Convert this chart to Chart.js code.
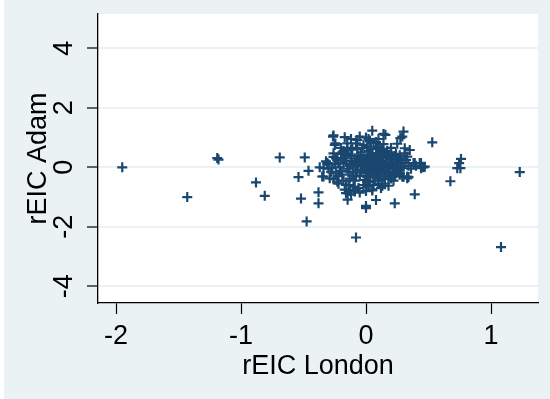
<!DOCTYPE html>
<html><head><meta charset="utf-8">
<script src="https://cdn.jsdelivr.net/npm/chart.js@4/dist/chart.umd.min.js"></script>
<style>html,body{margin:0;padding:0;background:#fff}#wrap{width:550px;height:399px}</style>
</head><body><div id="wrap"><canvas id="c" width="550" height="399"></canvas></div>
<script>
const xTitle = "rEIC London";
const yTitle = "rEIC Adam";
const xTicks = [-2, -1, 0, 1];
const yTicks = [-4, -2, 0, 2, 4];
const xRange = [-2.144, 1.376];
const yRange = [-4.56, 5.15];

const outliers = [
[-1.95,0.0],[-1.43,-1.0],[-1.19,0.31],[-1.18,0.26],[-0.88,-0.51],[-0.81,-0.96],[-0.69,0.33],[-0.49,0.33],
[-0.54,-0.33],[-0.46,-0.12],[-0.52,-1.05],[-0.38,-0.84],[-0.38,-1.21],[-0.475,-1.82],[-0.08,-2.36],[1.08,-2.68],
[1.23,-0.16],[0.675,-0.47],[0.76,0.28],[0.745,0.14],[0.73,-0.03],[0.755,-0.03],[0.53,0.84],[0.39,-0.91],
[0.23,-1.21],[0.08,-1.1],[0.0,-1.3],[0.0,-1.37]
];
const fringe = [
[-0.26,1.07],[-0.17,1.01],[-0.25,0.75],[0.05,1.23],[0.14,1.12],[0.155,1.09],[0.30,1.2],[0.29,1.03],[0.25,0.79],
[-0.07,0.92],[-0.05,1.03],[0.0,1.0],[0.03,0.9],[0.08,0.85],[-0.12,0.6],[-0.18,0.55],[0.1,0.7],[0.2,0.65],[-0.02,0.75],
[0.35,0.58],[0.31,0.64],[0.33,0.36],[0.43,0.14],[0.38,0.14],[0.46,0.0],[0.45,0.02],[0.47,0.02],[0.34,-0.33],[0.30,-0.33],
[0.33,-0.31],[0.29,-0.31],[0.31,0.47],[0.25,0.2],[0.22,0.1],[0.27,-0.1],[0.24,-0.2],[0.36,-0.05],[0.4,0.05],
[-0.37,0.0],[-0.34,-0.31],[-0.30,0.1],[-0.28,-0.15],[-0.32,0.2],[-0.26,-0.4],[-0.24,0.3],[-0.3,-0.05],[-0.22,-0.55],[-0.2,0.45],
[-0.264,1.03],[-0.245,0.8],[-0.26,0.47],[-0.31,0.14],[-0.34,-0.03],[-0.35,-0.31],[-0.29,-0.37],[-0.23,-0.48],[-0.16,-0.59],
[-0.16,-0.87],[-0.147,-1.09],[-0.12,-0.92],[-0.09,-0.81],[0.05,-0.74],[0.13,-0.63],[0.30,0.02],[0.33,-0.37],[0.27,-0.2],
[0.275,0.98],[0.39,0.14],[0.44,-0.03],[0.44,0.14]
];
const core = [
[-0.18,0.12],[-0.15,-0.05],[-0.12,0.22],[-0.1,-0.18],[-0.08,0.05],[-0.06,0.35],[-0.05,-0.3],[-0.03,0.15],[-0.02,-0.08],[0.0,0.25],
[0.01,-0.2],[0.02,0.08],[0.03,0.42],[0.04,-0.12],[0.05,0.18],[0.06,-0.35],[0.07,0.3],[0.08,0.0],[0.09,-0.25],[0.1,0.12],
[0.11,0.4],[0.12,-0.1],[0.13,0.22],[0.14,-0.3],[0.15,0.05],[0.16,0.32],[0.17,-0.18],[0.18,0.15],[0.19,-0.05],[0.2,0.28],
[-0.19,-0.25],[-0.17,0.3],[-0.14,0.45],[-0.13,-0.38],[-0.11,0.1],[-0.09,-0.45],[-0.07,0.2],[-0.04,0.5],[-0.01,-0.42],[0.0,0.02],
[0.02,0.55],[0.03,-0.5],[0.05,0.32],[0.06,-0.02],[0.08,0.48],[0.09,0.1],[0.1,-0.45],[0.12,0.55],[0.13,-0.02],[0.15,-0.4],
[0.16,0.45],[0.18,-0.3],[0.21,0.05],[0.22,-0.15],[0.23,0.38],[0.24,0.0],[0.26,0.12],[0.27,-0.25],[0.28,0.25],[0.2,-0.38],
[-0.21,0.0],[-0.2,-0.12],[-0.16,0.2],[-0.14,-0.15],[-0.12,0.38],[-0.1,0.02],[-0.08,-0.3],[-0.06,0.12],[-0.04,-0.15],[-0.02,0.3],
[0.0,-0.1],[0.01,0.4],[0.03,-0.28],[0.04,0.12],[0.05,-0.05],[0.07,0.2],[0.08,-0.15],[0.1,0.3],[0.11,-0.3],[0.12,0.08],
[0.14,0.35],[0.15,-0.2],[0.17,0.0],[0.18,0.4],[0.19,-0.22],[0.21,0.2],[0.22,-0.05],[0.25,-0.1],[0.26,0.3],[0.17,0.55],
[-0.23,0.25],[-0.22,-0.3],[-0.19,0.5],[-0.18,-0.45],[-0.15,0.6],[-0.14,-0.6],[-0.11,0.65],[-0.1,-0.65],[-0.07,0.6],[-0.06,-0.7],
[-0.03,0.65],[-0.02,-0.6],[0.01,0.7],[0.02,-0.65],[0.04,0.62],[0.06,-0.6],[0.09,0.65],[0.1,-0.55],[0.13,0.62],[0.15,-0.55],
[0.2,0.5],[0.22,-0.45],[0.24,0.45],[0.28,-0.02],[0.3,0.15],[-0.25,0.1],[-0.27,0.0],[-0.24,-0.2],[-0.26,0.35],[-0.2,0.65],
[-0.13,-0.8],[-0.1,-0.75],[-0.05,-0.85],[0.0,-0.8],[0.05,-0.78],[0.12,-0.7],[0.18,-0.62],[-0.17,-0.75],[-0.08,0.8],[0.06,0.82],
[0.14,0.78],[-0.15,0.8],[-0.12,0.95],[0.02,0.95],[0.1,0.95],[-0.03,0.05],[0.0,0.12],[0.02,-0.02],[0.04,0.28],[0.06,0.08],
[-0.01,0.18],[0.07,-0.08],[0.03,0.35],[-0.05,0.25],[0.09,0.25],[0.11,0.18],[0.05,0.45],[-0.07,-0.1],[0.13,0.12],[0.01,-0.32],
[-0.16,0.38],[-0.13,0.05],[-0.11,-0.28],[-0.09,0.3],[-0.04,0.4],[-0.02,0.1],[0.01,-0.5],[0.04,0.2],[0.07,-0.45],[0.09,0.38],
[0.12,-0.2],[0.14,0.5],[0.16,-0.08],[0.19,0.3],[0.23,-0.3],[0.27,0.4],[0.32,0.25],[0.34,0.05],[-0.2,0.3],[-0.22,0.15]
];

const points = outliers.concat(fringe, core).map(p => ({x: p[0], y: p[1]}));

const BG = '#EAF2F3';
const MARK = '#1A476F';
const FONT = 'Liberation Sans, Arial, sans-serif';

const bgPlugin = {
  id: 'bg',
  beforeDraw(chart) {
    const {ctx, chartArea: a} = chart;
    ctx.save();
    ctx.fillStyle = '#ffffff';
    ctx.fillRect(0, 0, chart.width, chart.height);
    ctx.fillStyle = BG;
    ctx.fillRect(4, 0, chart.width - 4, chart.height);
    ctx.fillStyle = '#ffffff';
    ctx.fillRect(a.left, a.top, a.right - a.left, a.bottom - a.top);
    ctx.restore();
  }
};

function zeroPad(s) { s.paddingTop = 0; s.paddingBottom = 0; s.paddingLeft = 0; s.paddingRight = 0; }

new Chart(document.getElementById('c'), {
  type: 'scatter',
  data: { datasets: [{ data: points, pointStyle: 'cross', pointRadius: 5, pointBorderWidth: 2.2,
    borderColor: MARK, backgroundColor: MARK, pointHoverRadius: 5 }] },
  options: {
    responsive: false, animation: false, devicePixelRatio: 1,
    layout: { padding: { top: 14, right: 12, left: 0, bottom: 0 } },
    plugins: { legend: { display: false }, tooltip: { enabled: false } },
    scales: {
      x: {
        type: 'linear', min: xRange[0], max: xRange[1],
        afterFit(s) { s.height = 96; zeroPad(s); },
        afterBuildTicks(s) { s.ticks = xTicks.map(v => ({value: v})); },
        grid: { drawOnChartArea: false, drawTicks: true, tickLength: 11, tickColor: '#000', tickWidth: 1.2 },
        border: { display: true, color: '#000', width: 1.3 },
        ticks: { color: '#000', font: { family: FONT, size: 27 }, padding: 6, maxRotation: 0, autoSkip: false,
          callback: v => String(v) },
        title: { display: true, text: xTitle, color: '#000', font: { family: FONT, size: 27 }, padding: { top: 0, bottom: 16 } }
      },
      y: {
        type: 'linear', min: yRange[0], max: yRange[1],
        afterFit(s) { s.width = 98; zeroPad(s); },
        afterBuildTicks(s) { s.ticks = yTicks.map(v => ({value: v})); },
        grid: { drawOnChartArea: true, color: BG, lineWidth: 2, drawTicks: true, tickLength: 11, tickColor: '#000', tickWidth: 1.2 },
        border: { display: true, color: '#000', width: 1.3 },
        ticks: { color: '#000', font: { family: FONT, size: 27 }, padding: 10, minRotation: 90, maxRotation: 90,
          crossAlign: 'center', autoSkip: false, callback: v => String(v) },
        title: { display: true, text: yTitle, color: '#000', font: { family: FONT, size: 27 }, padding: { top: 22, bottom: 0 } }
      }
    }
  },
  plugins: [bgPlugin]
});
</script></body></html>
